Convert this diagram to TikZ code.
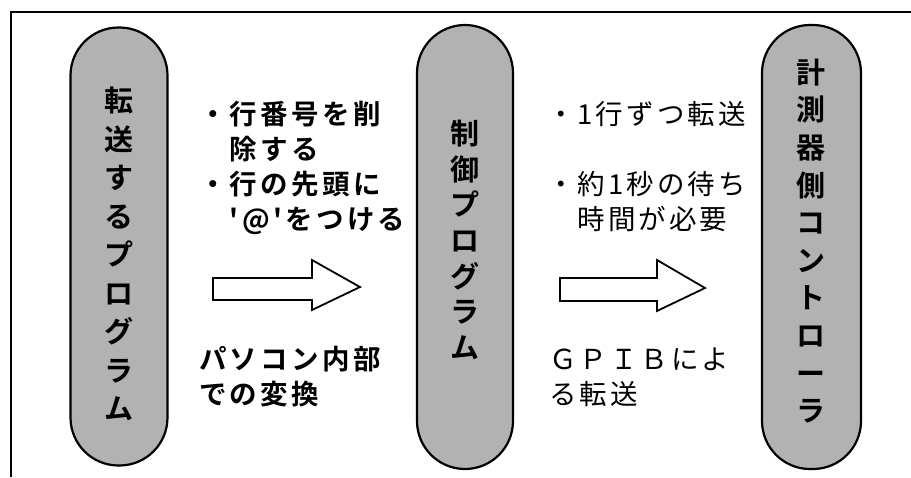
\documentclass[tikz,border=0pt]{standalone}
\usepackage{fontspec}
\IfFontExistsTF{Noto Sans CJK JP Bold}
  {\newfontfamily\jpb{Noto Sans CJK JP Bold}
   \newfontfamily\jpbs[LetterSpace=12]{Noto Sans CJK JP Bold}}
  {\newfontfamily\jpb[FakeBold=3]{Noto Sans CJK JP}
   \newfontfamily\jpbs[FakeBold=3,LetterSpace=12]{Noto Sans CJK JP}}
\newfontfamily\jprs[LetterSpace=11]{Noto Sans CJK JP}
\begin{document}
\begin{tikzpicture}[x=1pt,y=-1pt]
\tikzset{
  capsule/.style={draw, line width=2.2pt, fill=black!30, rounded corners=48pt, inner sep=0pt, minimum width=97pt},
  vtext/.style={align=center, inner sep=0pt},
  ltext/.style={align=left, inner sep=0pt, anchor=base west, font=\jpbs\fontsize{27.5}{35}\selectfont},
  rtext/.style={align=left, inner sep=0pt, anchor=base west, font=\jprs\fontsize{27.5}{35}\selectfont},
  blockarrow/.style={draw, line width=1.8pt, fill=white, line join=miter},
  frame/.style={line width=1.8pt}
}
\useasboundingbox (0,0) rectangle (911,477);
\fill[white] (0,0) rectangle (911,477);
% frame (top and left lines)
\coordinate (ftr) at (911,12);
\coordinate (ftl) at (11,12);
\coordinate (fbl) at (11,477);
\draw[frame] (ftr) -- (ftl) -- (fbl);

% capsules
\node[capsule, minimum height=438pt] (p1) at (119,246.5) {};
\node[capsule, minimum width=96pt, minimum height=444pt] (p2) at (465,247) {};
\node[capsule, minimum width=99pt, minimum height=444pt] (p3) at (811.5,247) {};

\node[vtext, font=\jpb\fontsize{29}{38.5}\selectfont] (t1) at (119,254) {転\\送\\す\\る\\プ\\ロ\\グ\\ラ\\ム};
\node[vtext, font=\jpb\fontsize{29}{35.7}\selectfont] (t2) at (465,240) {制\\御\\プ\\ロ\\グ\\ラ\\ム};
\node[vtext, font=\jpb\fontsize{29}{37.6}\selectfont] (t3) at (811,241) {計\\測\\器\\側\\コ\\ン\\ト\\ロ\\ー\\ラ};

% left descriptions (anchor = baseline of last line)
\node[ltext] (d1) at (199,229) {・行番号を削\\　除する\\・行の先頭に\\　'@'をつける};
\node[ltext] (c1) at (199,404) {パソコン内部\\での変換};

% right descriptions
\node[rtext] (d2) at (547,229) {・1行ずつ転送\\[35pt]・約1秒の待ち\\　時間が必要};
\node[rtext] (c2) at (549,404) {ＧＰＩＢによ\\る転送};

% block arrows
\coordinate (a1tip) at (360,287);
\draw[blockarrow] (213,278) -- (312,278) -- (312,260) -- (a1tip) -- (312,310) -- (312,300) -- (213,300) -- cycle;
\coordinate (a2tip) at (705,288);
\draw[blockarrow] (560,278) -- (657,278) -- (657,260) -- (a2tip) -- (657,311) -- (657,301) -- (560,301) -- cycle;
\end{tikzpicture}
\end{document}
